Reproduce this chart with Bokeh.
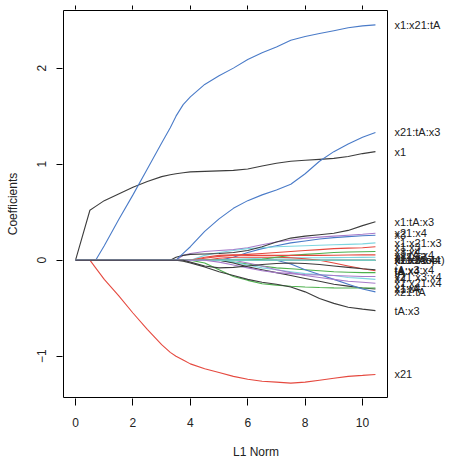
from bokeh.plotting import figure
from bokeh.models import (ColumnDataSource, LinearAxis, FixedTicker, Range1d, BoxAnnotation)
from bokeh.core.properties import value
from bokeh.embed import file_html
from bokeh.resources import INLINE

# L1 norm of the coefficient vector along the lasso path
l1_norm = [0, 0.5, 0.7, 1, 1.5, 2, 2.5, 3, 3.3, 3.5, 3.75, 4, 4.5, 5, 5.5,
           6, 6.5, 7, 7.5, 8, 8.5, 9, 9.5, 10, 10.45]

# coefficient paths, one list per model term (same length as l1_norm)
coef_intercept = [0, 0, 0, 0, 0, 0, 0, 0, 0, 0, 0, 0, 0, 0, 0, 0, 0, 0, 0, 0, 0, 0, 0, 0, 0]
coef_x1 = [0, 0.52, 0.56, 0.62, 0.69, 0.76, 0.82, 0.87, 0.89, 0.90, 0.91, 0.92, 0.925,
           0.93, 0.935, 0.95, 0.98, 1.01, 1.03, 1.04, 1.05, 1.06, 1.08, 1.11, 1.13]
coef_x21 = [0, 0, -0.08, -0.20, -0.37, -0.55, -0.72, -0.88, -0.96, -1.00, -1.04, -1.08,
            -1.13, -1.17, -1.21, -1.24, -1.26, -1.27, -1.28, -1.27, -1.25, -1.23, -1.21,
            -1.20, -1.19]
coef_tA = [0, 0, 0, 0, 0, 0, 0, 0, 0, 0, 0, 0, 0, 0, -0.02, -0.04, -0.06, -0.08, -0.09,
           -0.10, -0.11, -0.12, -0.125, -0.13, -0.13]
coef_x3 = [0, 0, 0, 0, 0, 0, 0, 0, 0, 0, 0, 0, 0, 0, 0.03, 0.08, 0.12, 0.15, 0.18, 0.20,
           0.22, 0.235, 0.245, 0.255, 0.26]
coef_x4 = [0, 0, 0, 0, 0, 0, 0, 0, 0, 0, 0, 0, 0, 0, -0.02, -0.05, -0.08, -0.10, -0.12,
           -0.14, -0.15, -0.16, -0.18, -0.19, -0.20]
coef_x1_x21 = [0, 0, 0, 0, 0, 0, 0, 0, 0, 0, 0, 0, 0, 0, 0, 0, 0, 0, 0, 0, 0, 0, 0, 0, 0]
coef_x1_tA = [0, 0, 0, 0, 0, 0, 0, 0, 0, 0, 0, 0, 0, 0, -0.03, -0.07, -0.10, -0.13, -0.16,
              -0.19, -0.22, -0.25, -0.27, -0.29, -0.30]
coef_x1_x3 = [0, 0, 0, 0, 0, 0, 0, 0, 0, 0, 0, 0, 0.02, 0.04, 0.05, 0.06, 0.07, 0.08, 0.09,
              0.10, 0.11, 0.12, 0.125, 0.13, 0.14]
coef_x1_x4 = [0, 0, 0, 0, 0, 0, 0, 0, 0, 0, 0, 0, -0.03, -0.10, -0.17, -0.21, -0.245, -0.26,
              -0.272, -0.28, -0.285, -0.288, -0.29, -0.29, -0.29]
coef_x21_tA = [0, 0, 0, 0, 0, 0, 0, 0, 0, 0, 0, 0, 0, 0, 0, 0, 0, 0, -0.04, -0.10, -0.15,
               -0.20, -0.25, -0.30, -0.33]
coef_x21_x3 = [0, 0, 0, 0, 0, 0, 0, 0, 0, 0, 0, 0, 0, 0, 0.01, 0.015, 0.02, 0.022, 0.024,
               0.025, 0.026, 0.027, 0.028, 0.029, 0.03]
coef_x21_x4 = [0, 0, 0, 0, 0, 0, 0, 0, 0, 0, 0.05, 0.07, 0.09, 0.10, 0.11, 0.13, 0.16, 0.19,
               0.21, 0.23, 0.24, 0.25, 0.26, 0.27, 0.28]
coef_tA_x3 = [0, 0, 0, 0, 0, 0, 0, 0, 0, 0, -0.01, -0.03, -0.07, -0.12, -0.16, -0.20, -0.23,
              -0.25, -0.28, -0.33, -0.40, -0.45, -0.49, -0.51, -0.525]
coef_tA_x4 = [0, 0, 0, 0, 0, 0, 0, 0, 0, 0, 0, 0, 0, 0.02, 0.03, 0.03, 0.03, 0.03, 0.025,
              0.015, 0.0, -0.03, -0.06, -0.09, -0.11]
coef_x3_x4 = [0, 0, 0, 0, 0, 0, 0, 0, 0, 0, 0, 0, 0, 0, 0, 0, 0.01, 0.03, 0.05, 0.06, 0.07,
              0.08, 0.085, 0.088, 0.09]
coef_x1_x21_tA = [0, 0, 0, 0.15, 0.42, 0.68, 0.95, 1.22, 1.38, 1.50, 1.62, 1.70, 1.83, 1.92,
                  2.00, 2.09, 2.16, 2.22, 2.29, 2.33, 2.36, 2.39, 2.42, 2.44, 2.45]
coef_x1_x21_x3 = [0, 0, 0, 0, 0, 0, 0, 0, 0, 0, 0, 0, 0.05, 0.08, 0.10, 0.12, 0.13, 0.14,
                  0.145, 0.15, 0.155, 0.16, 0.165, 0.17, 0.18]
coef_x1_x21_x4 = [0, 0, 0, 0, 0, 0, 0, 0, 0, 0, 0, 0, 0, 0, 0, -0.03, -0.06, -0.10, -0.13,
                  -0.16, -0.18, -0.20, -0.22, -0.23, -0.24]
coef_x1_tA_x3 = [0, 0, 0, 0, 0, 0, 0, 0, 0, 0.03, 0.05, 0.06, 0.065, 0.07, 0.08, 0.10, 0.14,
                 0.19, 0.23, 0.25, 0.265, 0.28, 0.31, 0.36, 0.40]
coef_x1_tA_x4 = [0, 0, 0, 0, 0, 0, 0, 0, 0, 0, 0, 0, 0.03, 0.05, 0.055, 0.05, 0.05, 0.05,
                 0.05, 0.05, 0.05, 0.052, 0.054, 0.055, 0.055]
coef_x1_x3_x4 = [0, 0, 0, 0, 0, 0, 0, 0, 0, 0, 0, 0, 0, 0, 0, 0, 0, 0, 0, 0, 0, 0, 0, 0, 0]
coef_x21_tA_x3 = [0, 0, 0, 0, 0, 0, 0, 0, 0, 0, 0.07, 0.14, 0.30, 0.43, 0.54, 0.62, 0.68,
                  0.73, 0.79, 0.90, 1.03, 1.13, 1.21, 1.28, 1.33]
coef_x21_tA_x4 = [0, 0, 0, 0, 0, 0, 0, 0, 0, 0, 0, 0, 0, 0, 0, 0, 0, 0, 0, 0, 0, 0, 0, 0, 0]
coef_x21_x3_x4 = [0, 0, 0, 0, 0, 0, 0, 0, 0, 0, 0, 0, 0, -0.02, -0.05, -0.08, -0.11, -0.13,
                  -0.14, -0.15, -0.155, -0.16, -0.165, -0.17, -0.17]
coef_tA_x3_x4 = [0, 0, 0, 0, 0, 0, 0, 0, 0, 0, 0, -0.02, -0.06, -0.08, -0.075, -0.06, -0.045,
                 -0.035, -0.03, -0.035, -0.045, -0.06, -0.075, -0.09, -0.10]

term_names = ["(Intercept)", "x1", "x21", "tA", "x3", "x4", "x1:x21", "x1:tA", "x1:x3",
              "x1:x4", "x21:tA", "x21:x3", "x21:x4", "tA:x3", "tA:x4", "x3:x4",
              "x1:x21:tA", "x1:x21:x3", "x1:x21:x4", "x1:tA:x3", "x1:tA:x4", "x1:x3:x4",
              "x21:tA:x3", "x21:tA:x4", "x21:x3:x4", "tA:x3:x4"]
term_coefs = [coef_intercept, coef_x1, coef_x21, coef_tA, coef_x3, coef_x4, coef_x1_x21,
              coef_x1_tA, coef_x1_x3, coef_x1_x4, coef_x21_tA, coef_x21_x3, coef_x21_x4,
              coef_tA_x3, coef_tA_x4, coef_x3_x4, coef_x1_x21_tA, coef_x1_x21_x3,
              coef_x1_x21_x4, coef_x1_tA_x3, coef_x1_tA_x4, coef_x1_x3_x4, coef_x21_tA_x3,
              coef_x21_tA_x4, coef_x21_x3_x4, coef_tA_x3_x4]

x_ticks = [0, 2, 4, 6, 8, 10]
y_ticks = [-1, 0, 1, 2]

# colour cycle for the predictors: black, red, green, blue, cyan, magenta
palette = ["#3c3c3c", "#e5493f", "#4cb04c", "#4a7bc8", "#7fd6e0", "#a77bca"]

FONT = "Liberation Sans"

# plotting box (data units); the drawing area extends to the right for the term names
box_x0, box_x1 = -0.42, 10.87
box_y0, box_y1 = -1.43, 2.60
box_px_w, box_px_h = 324, 387
ux = (box_x1 - box_x0) / box_px_w          # data units per pixel, x
uy = (box_y1 - box_y0) / box_px_h          # data units per pixel, y
frame_w, frame_h = 387, 389

p = figure(frame_width=frame_w, frame_height=frame_h,
           x_range=Range1d(box_x0 - ux, box_x0 - ux + frame_w * ux),
           y_range=Range1d(box_y0 - uy, box_y1 + uy),
           output_backend="svg", toolbar_location=None,
           min_border_left=62, min_border_right=0, min_border_top=9,
           min_border_bottom=59, background_fill_color="white",
           border_fill_color="white")
p.grid.visible = False
p.outline_line_color = None

p.add_layout(BoxAnnotation(left=box_x0, right=box_x1, bottom=box_y0, top=box_y1,
                           fill_alpha=0, fill_color=None, line_color="black",
                           line_width=1, line_alpha=1))

# coefficient paths: intercept first, then predictors cycling through the palette
for i, (name, coefs) in enumerate(zip(term_names, term_coefs)):
    color = palette[0] if i == 0 else palette[(i - 1) % len(palette)]
    p.line(l1_norm, coefs, line_color=color, line_width=1.1)

# term names at the end of each path, right of the box
label_src = ColumnDataSource(data=dict(
    x=[l1_norm[-1]] * len(term_names),
    y=[c[-1] for c in term_coefs],
    name=term_names,
))
p.text(x="x", y="y", text="name", source=label_src, x_offset=19,
       text_baseline="middle", text_align="left",
       text_font=value(FONT), text_font_size="11px", text_color="#222222")

for ax in (p.xaxis[0], p.yaxis[0]):
    ax.axis_line_color = None
    ax.major_tick_in = 0
    ax.major_tick_out = 6
    ax.major_tick_line_color = "black"
    ax.minor_tick_line_color = None
    ax.major_label_text_font = FONT
    ax.major_label_text_font_size = "12px"
    ax.major_label_text_color = "#222222"
    ax.axis_label_text_font = FONT
    ax.axis_label_text_font_size = "12px"
    ax.axis_label_text_font_style = "normal"
    ax.axis_label_text_color = "#222222"

p.xaxis.ticker = FixedTicker(ticks=x_ticks)
p.xaxis.axis_label = "L1 Norm"
p.xaxis.major_tick_out = 7
p.xaxis.major_label_standoff = 12
p.xaxis.axis_label_standoff = 15

p.yaxis.ticker = FixedTicker(ticks=y_ticks)
p.yaxis.axis_label = "Coefficients"
p.yaxis.major_label_orientation = "parallel"
p.yaxis.major_label_standoff = 10
p.yaxis.axis_label_standoff = 15

# upper axis carries ticks only
top = LinearAxis(ticker=FixedTicker(ticks=x_ticks), axis_line_color=None,
                 major_tick_in=0, major_tick_out=4, major_tick_line_color="black",
                 minor_tick_line_color=None, major_label_standoff=0,
                 major_label_overrides={t: "" for t in x_ticks})
p.add_layout(top, "above")

open("out.html", "w").write(file_html(p, INLINE))
